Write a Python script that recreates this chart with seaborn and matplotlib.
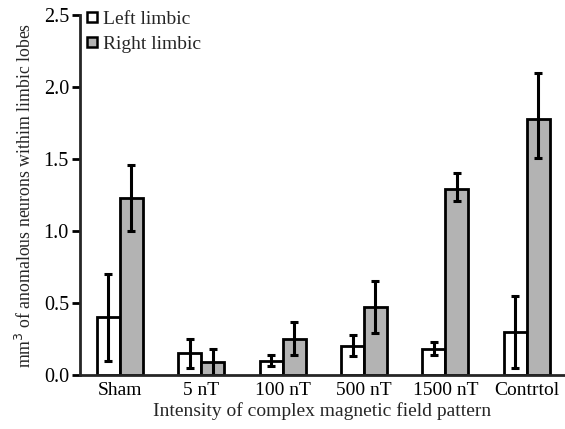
import matplotlib.pyplot as plt
import pandas as pd
import seaborn as sns
from matplotlib.lines import Line2D

groups = ["Sham", "5 nT", "100 nT", "500 nT", "1500 nT", "Contrtol"]
left_mean = [0.40, 0.15, 0.10, 0.20, 0.18, 0.30]
left_low = [0.10, 0.05, 0.06, 0.13, 0.14, 0.05]
left_high = [0.70, 0.25, 0.14, 0.28, 0.23, 0.55]
right_mean = [1.23, 0.09, 0.25, 0.47, 1.29, 1.78]
right_low = [1.00, 0.00, 0.14, 0.29, 1.21, 1.51]
right_high = [1.46, 0.18, 0.37, 0.65, 1.40, 2.10]
y_ticks = [0.0, 0.5, 1.0, 1.5, 2.0, 2.5]

df = pd.DataFrame(
    {
        "group": groups * 2,
        "side": ["Left limbic"] * len(groups) + ["Right limbic"] * len(groups),
        "value": left_mean + right_mean,
        "low": left_low + right_low,
        "high": left_high + right_high,
    }
)

sns.set_theme(style="ticks")
plt.rcParams["font.family"] = ["Liberation Serif", "DejaVu Serif"]

fig = plt.figure(figsize=(5.65, 4.29), dpi=100)
ax = fig.add_axes([0.1416, 0.126, 0.8584, 0.839])

palette = {"Left limbic": "white", "Right limbic": "#b3b3b3"}
sns.barplot(
    data=df,
    x="group",
    y="value",
    hue="side",
    palette=palette,
    width=0.565,
    errorbar=None,
    edgecolor="black",
    linewidth=2,
    legend=False,
    ax=ax,
)

# error bars on the centre of each bar
for patch, (_, row) in zip(ax.patches, df.iterrows()):
    xc = patch.get_x() + patch.get_width() / 2
    ax.errorbar(
        xc,
        row["value"],
        yerr=[[row["value"] - row["low"]], [row["high"] - row["value"]]],
        fmt="none",
        ecolor="black",
        elinewidth=2.2,
        capsize=2.8,
        capthick=2.2,
    )

ax.set_xlim(-0.49, 5.47)
ax.set_ylim(0, 2.5)
ax.set_yticks(y_ticks)
ax.set_yticklabels([f"{t:.1f}" for t in y_ticks])
sns.despine(ax=ax)
ax.spines["left"].set_linewidth(2)
ax.spines["bottom"].set_linewidth(2)
ax.tick_params(axis="y", length=6, width=2, labelsize=14.5, pad=2, colors="black")
ax.tick_params(axis="x", length=0, labelsize=14, pad=5, colors="black")
ax.set_xlabel("Intensity of complex magnetic field pattern", fontsize=14, labelpad=2)
ax.set_ylabel("mm$^3$ of anomalous neurons withim limbic lobes", fontsize=12.8, labelpad=6)

handles = [
    Line2D([], [], marker="s", linestyle="none", markersize=7,
           markerfacecolor=palette[k], markeredgecolor="black", markeredgewidth=1.8, label=k)
    for k in palette
]
ax.legend(handles=handles, loc="upper left", bbox_to_anchor=(-0.02, 1.045), frameon=False,
          fontsize=14, handletextpad=0.1, labelspacing=0.35, borderaxespad=0.2, handlelength=1.0)

fig.savefig("out.png", dpi=100)
